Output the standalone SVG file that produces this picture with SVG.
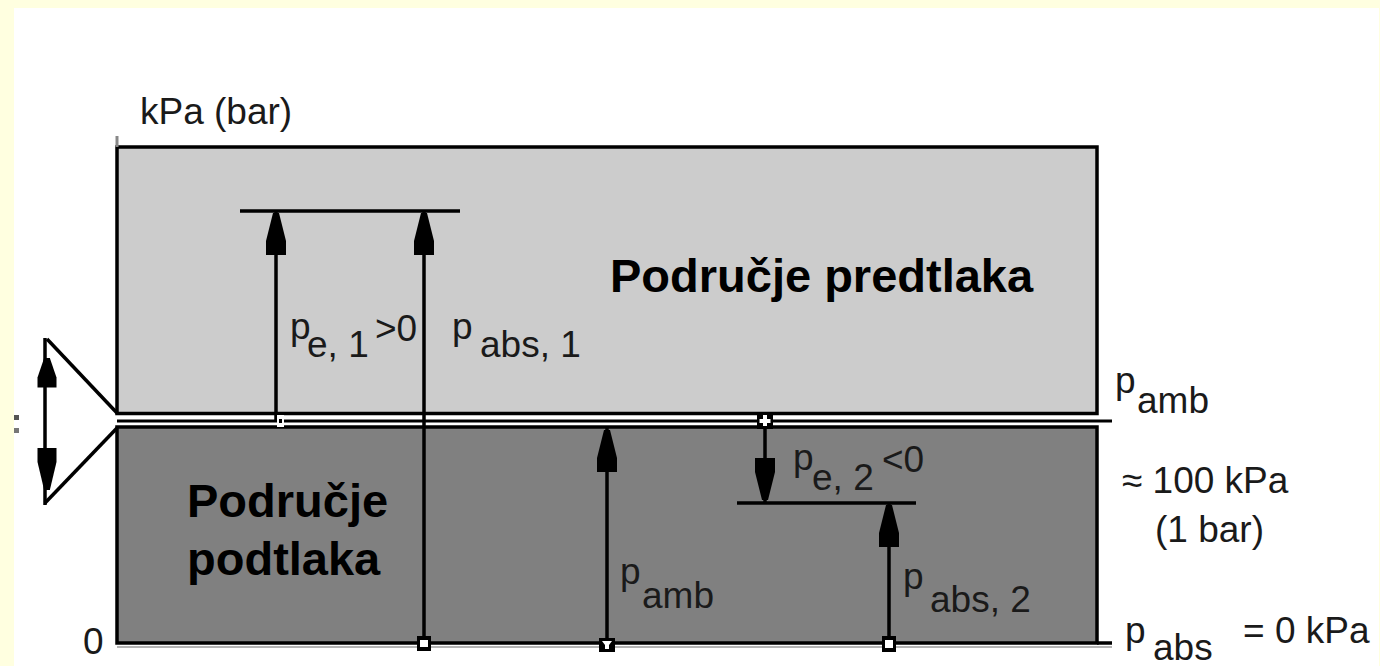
<svg xmlns="http://www.w3.org/2000/svg" xmlns:xlink="http://www.w3.org/1999/xlink" width="1380" height="666" viewBox="0 0 1380 666">
<style>
.ln{stroke:#000;stroke-width:3.5;fill:none}
.lbl{font-family:"Liberation Sans",Arial,sans-serif;font-size:37px;fill:#1a1a1a}
.big{font-family:"Liberation Sans",Arial,sans-serif;font-size:47px;font-weight:bold;fill:#000}
.ah{fill:#000}
.mk{fill:#000}
.mw{fill:#fff}
</style>
<defs>
<path id="ahUp" d="M-3,0 H3 L10,28 V42 H-10 V28 Z"/>
<path id="ahDown" d="M-3,0 H3 L10,-28 V-42 H-10 V-28 Z"/>
</defs>
<rect x="0" y="0" width="1380" height="666" fill="#FFFFE0"/>
<rect x="14" y="8" width="1365" height="658" fill="#FFFFFF"/>

<g id="zone-over">
<rect x="117" y="147" width="980" height="266.5" fill="#CCCCCC" stroke="#000" stroke-width="3.5"/>
<text class="big" x="610" y="292">Područje predtlaka</text>
</g>
<g id="zone-under">
<rect x="117" y="427" width="980" height="216" fill="#808080" stroke="#000" stroke-width="3.5"/>
<text class="big"><tspan x="187" y="517">Područje</tspan><tspan x="187" y="575">podtlaka</tspan></text>
</g>

<g id="axis">
<line x1="117" y1="136" x2="117" y2="147" stroke="#888" stroke-width="3"/>
<text class="lbl" x="140" y="124">kPa (bar)</text>
<text class="lbl" x="83" y="654">0</text>
<line x1="117" y1="421" x2="1112" y2="421" stroke="#000" stroke-width="3"/>
<line x1="1097" y1="643" x2="1112" y2="643" class="ln"/>
<line x1="117" y1="647" x2="1112" y2="647" stroke="#b4b4b4" stroke-width="2"/>
</g>

<g id="connectors">
<line class="ln" x1="240" y1="211" x2="460" y2="211" stroke-width="4"/>
<line class="ln" x1="737" y1="503" x2="916" y2="503"/>
<line class="ln" x1="276" y1="211" x2="276" y2="421"/>
<line class="ln" x1="424" y1="211" x2="424" y2="645"/>
<line class="ln" x1="607" y1="427" x2="607" y2="645"/>
<line class="ln" x1="765" y1="421" x2="765" y2="503"/>
<line class="ln" x1="889" y1="503" x2="889" y2="645"/>
<use href="#ahUp" class="ah" transform="translate(276,213)"/>
<use href="#ahUp" class="ah" transform="translate(424,213)"/>
<use href="#ahUp" class="ah" transform="translate(607,430)"/>
<use href="#ahDown" class="ah" transform="translate(765,500)"/>
<use href="#ahUp" class="ah" transform="translate(889,505)"/>
<line class="ln" x1="45" y1="338" x2="45" y2="505"/>
<line class="ln" x1="47" y1="339" x2="117" y2="413"/>
<line class="ln" x1="117" y1="428" x2="45" y2="503"/>
<use href="#ahUp" class="ah" transform="translate(47,358) scale(0.95,0.7)"/>
<use href="#ahDown" class="ah" transform="translate(47,490) scale(0.95,1)"/>
</g>

<g id="markers">
<rect x="277" y="415" width="7" height="12" class="mw"/>
<rect x="279" y="419" width="3" height="4" class="mk"/>
<rect x="757" y="413" width="16" height="16" class="mk"/>
<rect x="759.5" y="419" width="11" height="4" class="mw"/>
<rect x="763" y="415" width="4" height="11" class="mw"/>
<rect x="417" y="636" width="14" height="15" class="mk"/>
<rect x="420" y="640" width="8" height="7" class="mw"/>
<rect x="599" y="638" width="16" height="14" class="mk"/>
<path d="M602,641 H612 L609,645 V649 H605 V645 Z" class="mw"/>
<rect x="882" y="636" width="14" height="16" class="mk"/>
<rect x="885" y="640" width="8" height="8" class="mw"/>
<rect x="14" y="415" width="5" height="5" fill="#555"/>
<rect x="14" y="428" width="5" height="5" fill="#777"/>
</g>

<g id="labels">
<text class="lbl"><tspan x="290" y="339">p</tspan><tspan x="307" y="357">e, 1</tspan><tspan x="375" y="341">&gt;0</tspan></text>
<text class="lbl"><tspan x="452" y="339">p</tspan><tspan x="480" y="357">abs, 1</tspan></text>
<text class="lbl"><tspan x="620" y="584">p</tspan><tspan x="642" y="608">amb</tspan></text>
<text class="lbl"><tspan x="793" y="470">p</tspan><tspan x="812" y="490">e, 2</tspan><tspan x="882" y="472">&lt;0</tspan></text>
<text class="lbl"><tspan x="903" y="589">p</tspan><tspan x="930" y="612">abs, 2</tspan></text>
<text class="lbl"><tspan x="1115" y="393">p</tspan><tspan x="1137" y="413">amb</tspan></text>
<text class="lbl"><tspan x="1122" y="493">≈ 100 kPa</tspan><tspan x="1155" y="542">(1 bar)</tspan></text>
<text class="lbl"><tspan x="1125" y="643">p</tspan><tspan x="1153" y="660">abs</tspan><tspan x="1243" y="643">= 0 kPa</tspan></text>
</g>
</svg>
